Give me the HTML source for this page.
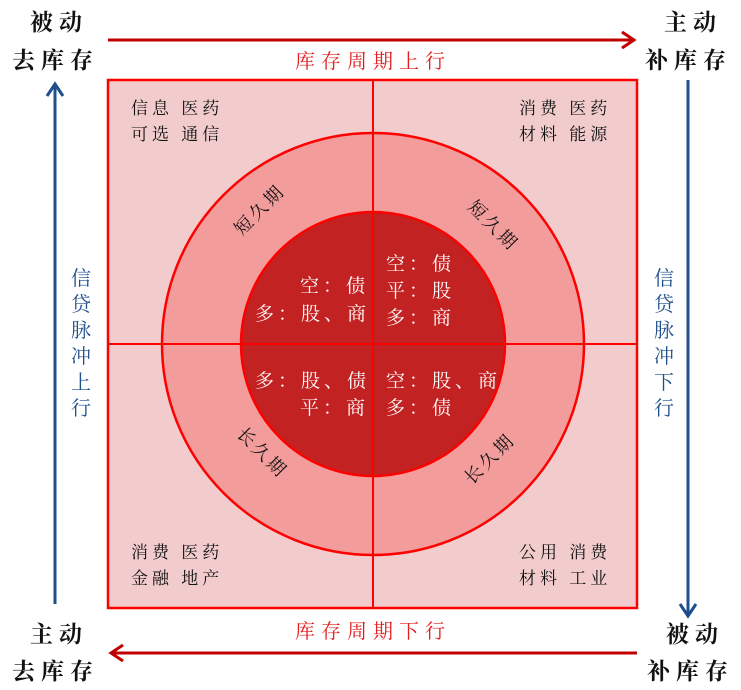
<!DOCTYPE html>
<html><head><meta charset="utf-8"><style>
html,body{margin:0;padding:0;background:#fff;}
svg{display:block;}
text{font-family:"Liberation Serif","Noto Serif CJK SC",serif;}
</style></head><body>
<svg width="741" height="690" viewBox="0 0 741 690" xmlns="http://www.w3.org/2000/svg">
<rect x="108" y="80" width="529" height="528" fill="#f2cccd" stroke="#ff0000" stroke-width="2.5"/>
<circle cx="373" cy="344" r="211" fill="#f39c9c" stroke="#ff0000" stroke-width="2.5"/>
<circle cx="373" cy="344" r="132" fill="#c32223" stroke="#ff0000" stroke-width="2.5"/>
<line x1="373" y1="80" x2="373" y2="608" stroke="#ff0000" stroke-width="2"/>
<line x1="108" y1="344" x2="637" y2="344" stroke="#ff0000" stroke-width="2"/>

<line x1="108" y1="40" x2="632" y2="40" stroke="#c00000" stroke-width="3"/>
<polyline points="622,32 634,40 622,48" fill="none" stroke="#c00000" stroke-width="3"/>
<line x1="113" y1="653" x2="637" y2="653" stroke="#c00000" stroke-width="3"/>
<polyline points="123,645 111,653 123,661" fill="none" stroke="#c00000" stroke-width="3"/>
<line x1="55" y1="86" x2="55" y2="604" stroke="#1f4e8c" stroke-width="3"/>
<polyline points="47,96 55,84 63,96" fill="none" stroke="#1f4e8c" stroke-width="3"/>
<line x1="688" y1="80" x2="688" y2="614" stroke="#1f4e8c" stroke-width="3"/>
<polyline points="680,604 688,616 696,604" fill="none" stroke="#1f4e8c" stroke-width="3"/>

<g font-size="23" fill="#111" letter-spacing="6" font-weight="bold">
<text x="30" y="30">被动</text><text x="12" y="68">去库存</text>
<text x="664" y="30">主动</text><text x="645" y="68">补库存</text>
<text x="30" y="642">主动</text><text x="12" y="679">去库存</text>
<text x="666" y="642">被动</text><text x="647" y="679">补库存</text>
</g>
<g font-size="20" fill="#e02020" letter-spacing="6">
<text x="295" y="68">库存周期上行</text>
<text x="295" y="638">库存周期下行</text>
</g>
<g font-size="20" fill="#1f4e8c" text-anchor="middle">
<text x="81" y="285">信</text><text x="81" y="311">贷</text><text x="81" y="337">脉</text><text x="81" y="363">冲</text><text x="81" y="389">上</text><text x="81" y="415">行</text>
<text x="664" y="285">信</text><text x="664" y="311">贷</text><text x="664" y="337">脉</text><text x="664" y="363">冲</text><text x="664" y="389">下</text><text x="664" y="415">行</text>
</g>
<g font-size="17" fill="#111" letter-spacing="4">
<text x="131" y="114">信息  医药</text><text x="131" y="140">可选  通信</text>
<text x="519" y="114">消费  医药</text><text x="519" y="140">材料  能源</text>
<text x="131" y="558">消费  医药</text><text x="131" y="584">金融  地产</text>
<text x="519" y="558">公用  消费</text><text x="519" y="584">材料  工业</text>
</g>
<g font-size="18" fill="#111" text-anchor="middle" letter-spacing="3">
<text transform="translate(264,214) rotate(-45)">短久期</text>
<text transform="translate(489,230) rotate(45)">短久期</text>
<text transform="translate(258,457) rotate(45)">长久期</text>
<text transform="translate(494,463) rotate(-45)">长久期</text>
</g>
<g font-size="19" fill="#fff" letter-spacing="4">
<text x="300" y="292">空：债</text>
<text x="255" y="320">多：股、商</text>
<text x="386" y="270">空：债</text>
<text x="386" y="297">平：股</text>
<text x="386" y="324">多：商</text>
<text x="255" y="387">多：股、债</text>
<text x="300" y="414">平：商</text>
<text x="386" y="387">空：股、商</text>
<text x="386" y="414">多：债</text>
</g>
</svg>
</body></html>
